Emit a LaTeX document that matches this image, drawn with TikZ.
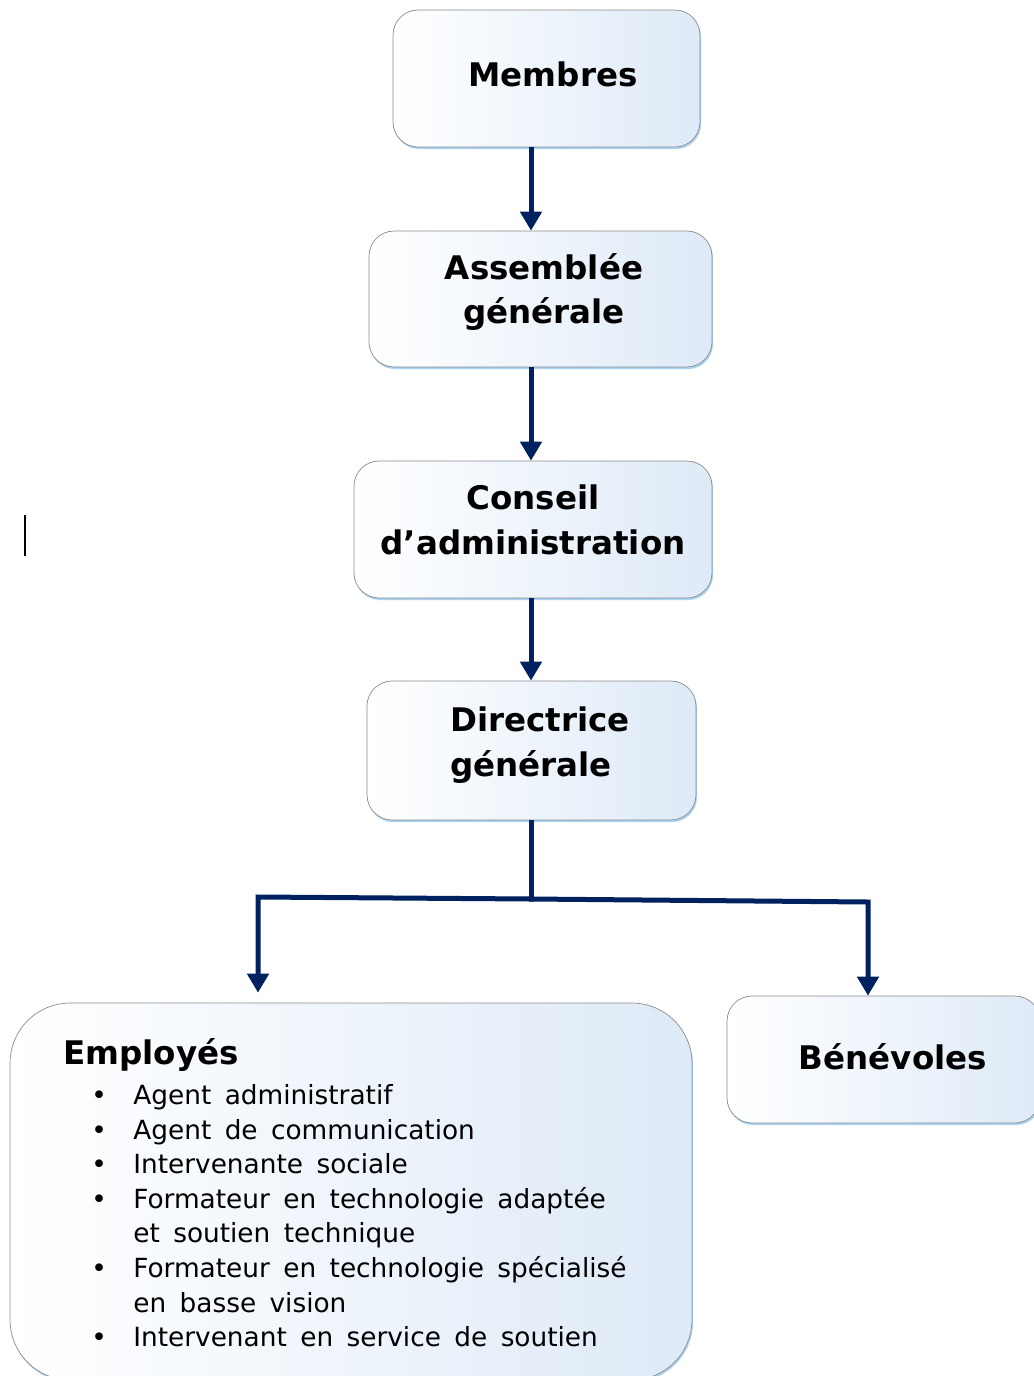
\documentclass[tikz,border=0pt]{standalone}
\usepackage{fontspec}
\setmainfont{DejaVu Sans}
\newfontfamily\listefont[WordSpace=1.6]{DejaVu Sans}
\usepackage{tikz}
\usetikzlibrary{arrows.meta,positioning,shapes,calc,shadows}
\definecolor{marine}{RGB}{0,33,96}
\definecolor{bleuclair}{RGB}{222,234,247}
\definecolor{lueur}{RGB}{150,200,240}
\newcommand{\puce}{\makebox[0.84cm][l]{\textbullet}}
\newcommand{\suite}{\hspace*{0.84cm}}

\begin{document}
\begin{tikzpicture}[x=0.02cm, y=-0.02cm]
\tikzset{
    %pointe de fleche
    >={Triangle[width=0.42cm,length=0.38cm]},
    %style des boites
    boite/.style={
           rectangle, rounded corners=0.5cm,
           inner sep=2pt,
           draw=black!45, thin,
           left color=white, right color=bleuclair,
           drop shadow={shadow xshift=0.6pt, shadow yshift=-1.2pt, fill=lueur, opacity=0.8}},
    grande/.style={
           boite, rounded corners=1.2cm},
    %style du texte des boites
    etiquette/.style={
           align=center, inner sep=0pt,
           font=\fontsize{18.5}{25.5}\selectfont\bfseries},
    fleche/.style={
           ->, draw=marine, line width=0.1cm},
    trait/.style={
           draw=marine, line width=0.1cm}
}
\useasboundingbox (0,0) rectangle (1034,1376);

%boites
\node(membres)    [boite, minimum width=6.14cm, minimum height=2.74cm] at (546.5,78.5)  {};
\node(assemblee)  [boite, minimum width=6.86cm, minimum height=2.72cm] at (540.5,299)   {};
\node(conseil)    [boite, minimum width=7.16cm, minimum height=2.74cm] at (533,529.5)   {};
\node(directrice) [boite, minimum width=6.58cm, minimum height=2.78cm] at (531.5,750.5) {};
\node(employes)   [grande, minimum width=13.64cm, minimum height=7.54cm] at (351,1191.5) {};
\node(benevoles)  [boite, minimum width=6.26cm, minimum height=2.54cm] at (883.5,1059.5) {};

%textes des boites
\node(tmembres)    [etiquette] at (553,74)   {Membres};
\node(tassemblee)  [etiquette] at (544,292)  {Assemblée\\générale};
\node(tconseil)    [etiquette] at (533,520)  {Conseil\\d’administration};
\node(tdirectrice) [etiquette, align=left] at (540,745)  {Directrice\\générale};
\node(tbenevoles)  [etiquette] at (893,1057) {Bénévoles};

%texte des employes
\node(titre) [anchor=base west, inner sep=0pt, font=\fontsize{18.5}{25.5}\selectfont\bfseries] at (63,1064) {Employés};
\node(liste) [anchor=north west, inner sep=0pt, align=left, font=\fontsize{15}{19.7}\listefont] at (91,1084) {%
\puce Agent administratif\\
\puce Agent de communication\\
\puce Intervenante sociale\\
\puce Formateur en technologie adaptée\\
\suite et soutien technique\\
\puce Formateur en technologie spécialisé\\
\suite en basse vision\\
\puce Intervenant en service de soutien};

%fleches
\coordinate(axe)    at (531,0);
\coordinate(jonc)   at (531,899);
\coordinate(jgauche) at (258,897);
\coordinate(jdroite) at (868,902);
\draw[fleche] (membres.south -| axe) -- (assemblee.north -| axe);
\draw[fleche] (assemblee.south -| axe) -- (conseil.north -| axe);
\draw[fleche] (conseil.south -| axe) -- (directrice.north -| axe);
\draw[trait] (directrice.south -| axe) -- (jonc);
\draw[fleche, line cap=rect, shorten >=0.2cm] (jonc) -- (jgauche) -- (jgauche |- employes.north);
\draw[fleche, line cap=rect] (jonc) -- (jdroite) -- (jdroite |- benevoles.north);

%curseur
\draw[black, line width=0.035cm] (25,515) -- (25,556);
\end{tikzpicture}
\end{document}
